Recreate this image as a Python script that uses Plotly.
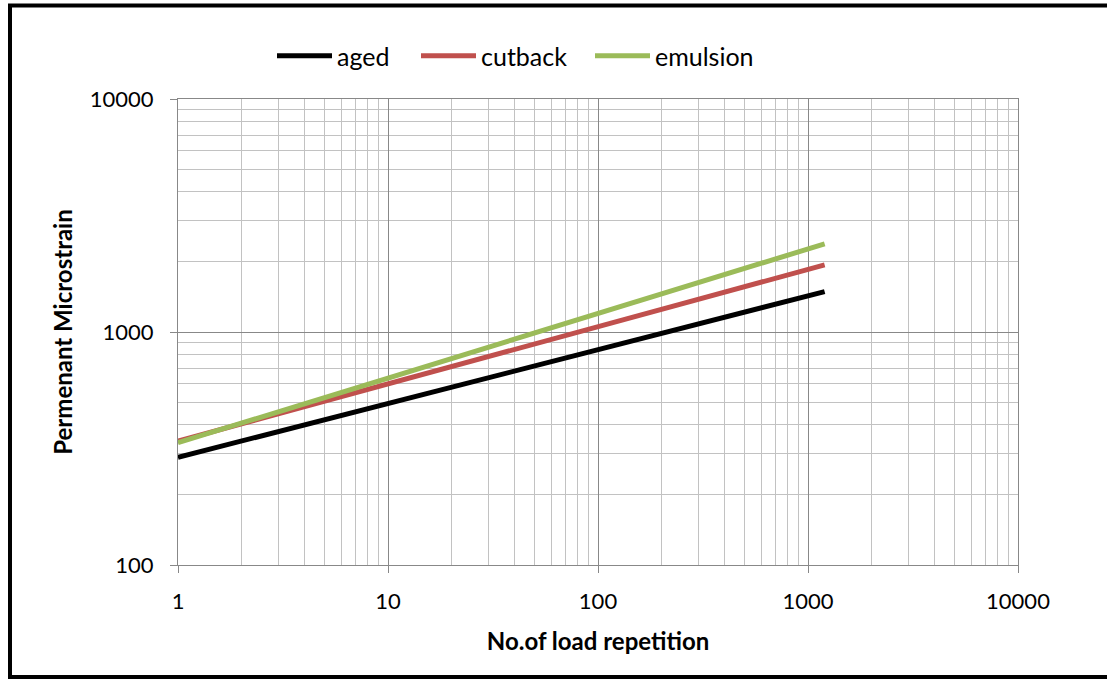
import plotly.graph_objects as go

# Data (log-log power-law lines)
load_reps = [1, 10, 100, 1000, 1200]
aged = [290, 495, 840, 1430, 1490]
cutback = [340, 600, 1055, 1860, 1940]
emulsion = [335, 633, 1195, 2260, 2390]

series_names = ["aged", "cutback", "emulsion"]
series_values = [aged, cutback, emulsion]
series_colors = ["#000000", "#C0504D", "#9BBB59"]

x_ticks = [1, 10, 100, 1000, 10000]
y_ticks = [100, 1000, 10000]

FONT = "Lato, Calibri, Carlito, sans-serif"

W, H = 1107, 679
L, R, T, B = 178, 1018, 99, 565

def px_x(p):
    return (p - L) / (R - L)

def px_y(p):
    return (B - p) / (B - T)

# pixel x where each legend entry's line sample starts
legend_starts = [277, 421, 595]
LEG_OFFSET = 5

fig = go.Figure()
legend_ids = ["legend", "legend2", "legend3"]
for name, vals, col, lid in zip(series_names, series_values, series_colors, legend_ids):
    fig.add_trace(go.Scatter(
        x=load_reps, y=vals, name=name, mode="lines",
        line=dict(color=col, width=5), legend=lid,
    ))

def minor_vals(major):
    out = []
    for d in major[:-1]:
        for k in range(2, 10):
            out.append(d * k)
    return out

def axis_cfg(ticks, rng, title, standoff, tstand):
    return dict(
        type="log", range=rng,
        tickvals=ticks, ticktext=[str(v) for v in ticks],
        showgrid=True, gridcolor="#888888", gridwidth=1.3,
        showline=True, linecolor="#888888", linewidth=1.3, mirror=True,
        ticks="outside", ticklen=7, tickcolor="#888888", tickwidth=1.3,
        ticklabelstandoff=standoff,
        tickfont=dict(family=FONT, size=22, color="#000000"),
        minor=dict(showgrid=True, gridcolor="#c2c2c2", gridwidth=1.3,
                   tickvals=minor_vals(ticks), ticks=""),
        zeroline=False,
        title=dict(text="<b>" + title + "</b>", font=dict(family=FONT, size=24),
                   standoff=tstand),
    )

def legend_cfg(px_start):
    return dict(
        orientation="h", x=px_x(px_start - LEG_OFFSET), y=px_y(56),
        xanchor="left", yanchor="middle",
        font=dict(family=FONT, size=25), itemwidth=55, bgcolor="rgba(0,0,0,0)",
        borderwidth=0,
    )

fig.update_layout(
    width=W, height=H,
    margin=dict(l=L, r=W - R, t=T, b=H - B, pad=0),
    paper_bgcolor="white", plot_bgcolor="white",
    font=dict(family=FONT, color="#000000"),
    xaxis=axis_cfg(x_ticks, [0, 4], "No.of load repetition", 9, 20),
    yaxis=axis_cfg(y_ticks, [2, 4], "Permenant Microstrain", 12, 10),
    legend=legend_cfg(legend_starts[0]),
    legend2=legend_cfg(legend_starts[1]),
    legend3=legend_cfg(legend_starts[2]),
    showlegend=True,
    shapes=[dict(
        type="rect", xref="paper", yref="paper",
        x0=px_x(10), x1=px_x(1120), y0=px_y(677), y1=px_y(5.5),
        line=dict(color="#000000", width=4), fillcolor="rgba(0,0,0,0)", layer="above",
    )],
)

fig.write_html("out.html")
